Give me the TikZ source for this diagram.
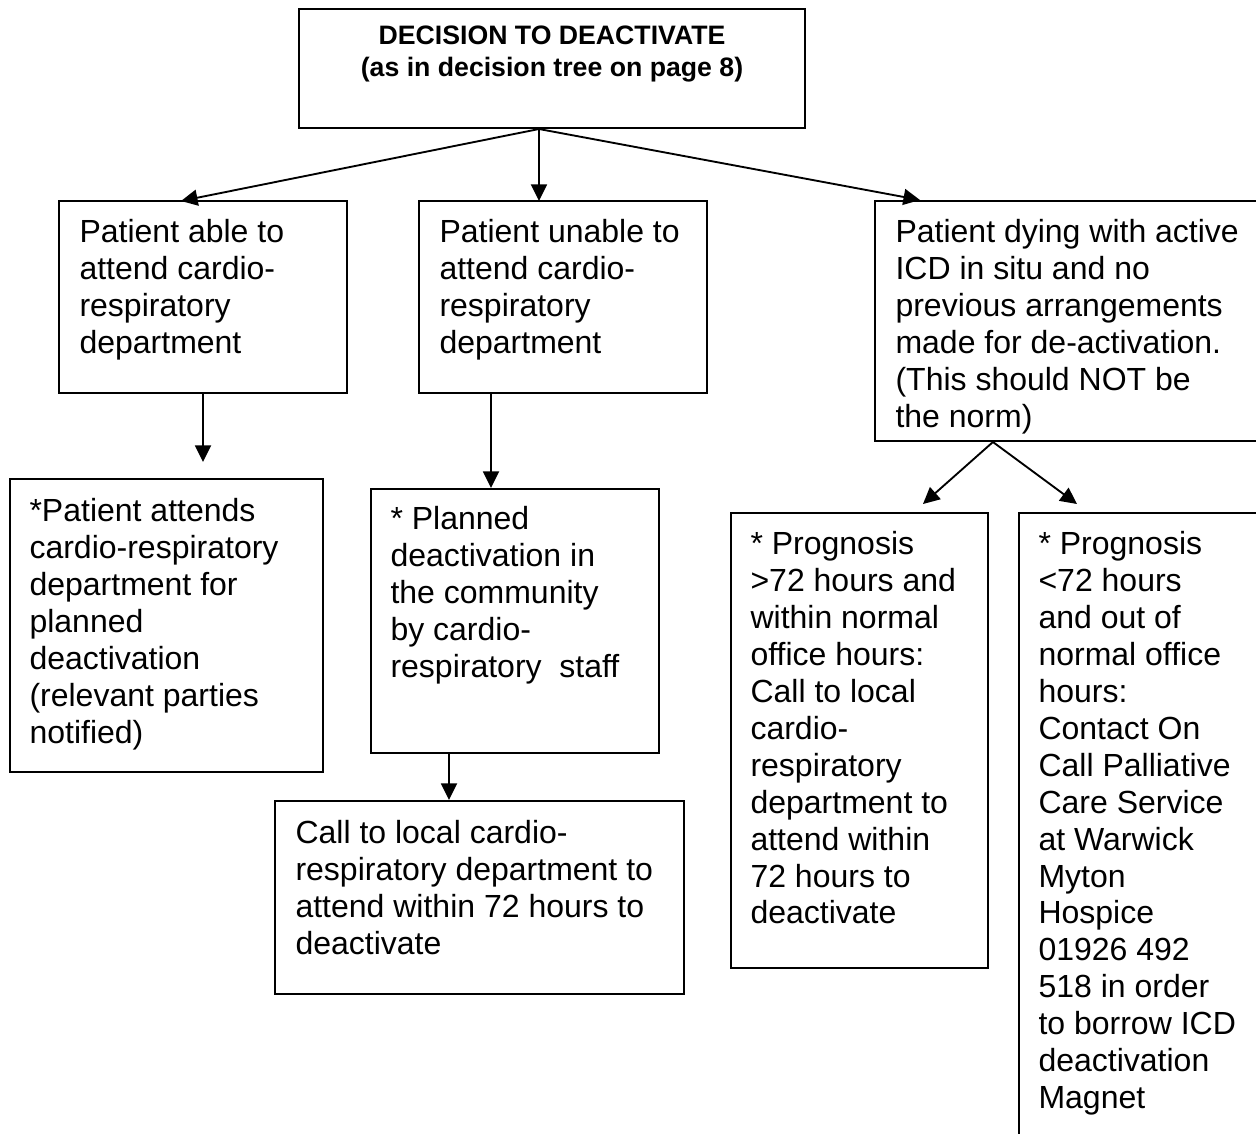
\documentclass[tikz,border=0pt]{standalone}
\usepackage{fontspec}
\setmainfont{Liberation Sans}
\usetikzlibrary{arrows.meta,fit}

\begin{document}
\begin{tikzpicture}[x=0.375pt,y=-0.375pt,
	box/.style={draw,line width=0.75pt,inner sep=0pt},
	txt/.style={anchor=north west,align=left,inner sep=0pt,yshift=9.69pt,
		font=\fontsize{12}{13.84}\selectfont,execute at begin node=\strut},
	arr/.style={-{Triangle[length=6.2pt,width=6pt]},line width=0.7pt}]
\useasboundingbox (0,0) rectangle (1256,1133);
\clip (0,0) rectangle (1256,1133);
% boxes
\node[box,fit={(299,9) (805,128)}] (top) {};
\node[box,fit={(59,201) (347,393)}] (able) {};
\node[box,fit={(419,201) (707,393)}] (unable) {};
\node[box,fit={(875,201) (1270,441)}] (dying) {};
\node[box,fit={(10,479) (323,772)}] (attends) {};
\node[box,fit={(371,489) (659,753)}] (planned) {};
\node[box,fit={(275,801) (684,994)}] (call) {};
\node[box,fit={(731,513) (988,968)}] (over) {};
\node[box,fit={(1019,513) (1270,1150)}] (under) {};
% texts
\node[anchor=north,align=center,inner sep=0pt,yshift=8.4pt,execute at begin node=\strut,
	font=\fontsize{10}{12}\selectfont\bfseries] (topt) at (552,48) {DECISION TO DEACTIVATE\\(as in decision tree on page 8)};
\node[txt] (ablet) at (79,245) {Patient able to\\attend cardio-\\respiratory\\department};
\node[txt] (unablet) at (439,245) {Patient unable to\\attend cardio-\\respiratory\\department};
\node[txt] (dyingt) at (895,245) {Patient dying with active\\ICD in situ and no\\previous arrangements\\made for de-activation.\\(This should NOT be\\the norm)};
\node[txt] (attendst) at (29,524) {*Patient attends\\cardio-respiratory\\department for\\planned\\deactivation\\(relevant parties\\notified)};
\node[txt] (plannedt) at (390,532) {* Planned\\deactivation in\\the community\\by cardio-\\respiratory\ \ staff};
\node[txt] (callt) at (295,846) {Call to local cardio-\\respiratory department to\\attend within 72 hours to\\deactivate};
\node[txt] (overt) at (750,557) {* Prognosis\\>72 hours and\\within normal\\office hours:\\Call to local\\cardio-\\respiratory\\department to\\attend within\\72 hours to\\deactivate};
\node[txt] (undert) at (1038,557) {* Prognosis\\<72 hours\\and out of\\normal office\\hours:\\Contact On\\Call Palliative\\Care Service\\at Warwick\\Myton\\Hospice\\01926 492\\518 in order\\to borrow ICD\\deactivation\\Magnet};
% arrow ends
\coordinate (a1) at (181,201);
\coordinate (a2) at (539,201);
\coordinate (a3) at (920,200);
\coordinate (d1) at (923,504);
\coordinate (d2) at (1077,504);
% connectors
\draw[arr] ([xshift=-4.9pt]top.south) -- (a1);
\draw[arr] ([xshift=-4.9pt]top.south) -- (a2);
\draw[arr] ([xshift=-4.9pt]top.south) -- (a3);
\draw[arr,shorten >=6pt] (able.south) -- (able.south |- attends.north);
\draw[arr] ([xshift=-27pt]unable.south) -- ([xshift=-27pt]unable.south |- planned.north);
\draw[arr] ([xshift=-24.75pt]planned.south) -- ([xshift=-24.75pt]planned.south |- call.north);
\draw[arr] ([xshift=44.6pt]dying.south west) -- (d1);
\draw[arr] ([xshift=44.6pt]dying.south west) -- (d2);
\end{tikzpicture}
\end{document}
